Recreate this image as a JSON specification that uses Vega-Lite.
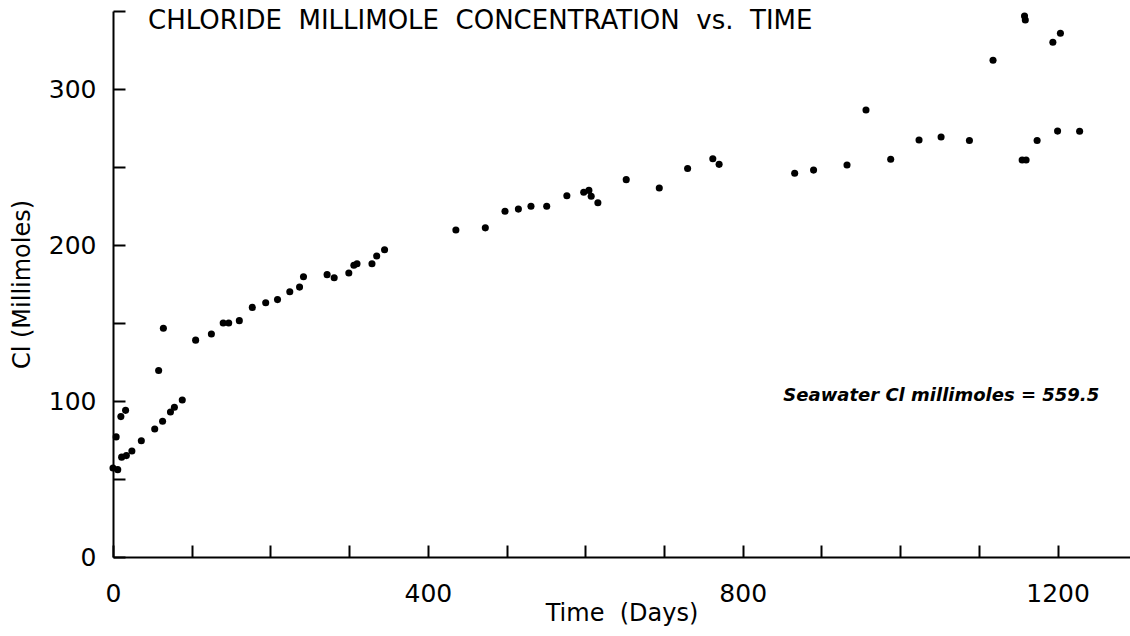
{
  "$schema": "https://vega.github.io/schema/vega-lite/v6.json",
  "autosize": {"type": "none"},
  "width": 1017,
  "height": 546,
  "padding": {"left": 113, "top": 11, "right": 0, "bottom": 79},
  "background": "white",
  "config": {
    "view": {"stroke": null},
    "axis": {
      "grid": false,
      "domainColor": "black",
      "domainWidth": 2,
      "tickColor": "black",
      "tickWidth": 2,
      "tickSize": -12,
      "labelColor": "black",
      "labelFont": "DejaVu Sans",
      "labelFontSize": 25,
      "titleColor": "black",
      "titleFont": "DejaVu Sans",
      "titleFontSize": 24,
      "titleFontWeight": "normal",
      "labelFlush": false,
      "labelOverlap": false,
      "labelBound": false
    }
  },
  "data": {
    "values": [
      {"day": 0, "cl": 57}, {"day": 6, "cl": 56}, {"day": 4, "cl": 77}, {"day": 10, "cl": 90},
      {"day": 16, "cl": 94}, {"day": 11, "cl": 64}, {"day": 17, "cl": 65}, {"day": 24, "cl": 68},
      {"day": 36, "cl": 74.5}, {"day": 53, "cl": 82}, {"day": 63, "cl": 87}, {"day": 73, "cl": 93},
      {"day": 78, "cl": 96}, {"day": 88, "cl": 100.6}, {"day": 58, "cl": 119.5}, {"day": 64, "cl": 146.6},
      {"day": 105, "cl": 139}, {"day": 125, "cl": 143}, {"day": 140, "cl": 150}, {"day": 147, "cl": 150},
      {"day": 160.5, "cl": 151.5}, {"day": 177, "cl": 160}, {"day": 194, "cl": 163}, {"day": 209, "cl": 165},
      {"day": 224.6, "cl": 170}, {"day": 237, "cl": 173}, {"day": 242, "cl": 179.7}, {"day": 272, "cl": 181},
      {"day": 281, "cl": 179}, {"day": 299.6, "cl": 182}, {"day": 306, "cl": 187}, {"day": 310, "cl": 188},
      {"day": 329, "cl": 188}, {"day": 335, "cl": 193}, {"day": 345, "cl": 197}, {"day": 435.6, "cl": 209.6},
      {"day": 473, "cl": 211}, {"day": 498, "cl": 221.6}, {"day": 515, "cl": 223}, {"day": 531, "cl": 224.8},
      {"day": 551, "cl": 224.8}, {"day": 576.6, "cl": 231.6}, {"day": 598, "cl": 233.8}, {"day": 604.6, "cl": 235},
      {"day": 607.5, "cl": 231.2}, {"day": 616, "cl": 227.1}, {"day": 652, "cl": 241.9}, {"day": 694, "cl": 236.5},
      {"day": 730, "cl": 249}, {"day": 762, "cl": 255.3}, {"day": 770, "cl": 251.7}, {"day": 866, "cl": 246},
      {"day": 890, "cl": 248}, {"day": 932.5, "cl": 251.3}, {"day": 956.6, "cl": 286.5}, {"day": 988, "cl": 255},
      {"day": 1024, "cl": 267.3}, {"day": 1052, "cl": 269.2}, {"day": 1088, "cl": 267}, {"day": 1155, "cl": 254.5},
      {"day": 1160, "cl": 254.5}, {"day": 1174, "cl": 267}, {"day": 1200, "cl": 273}, {"day": 1228, "cl": 272.9},
      {"day": 1158, "cl": 346.8}, {"day": 1159, "cl": 344.2}, {"day": 1203.6, "cl": 335.7}, {"day": 1194, "cl": 330},
      {"day": 1118, "cl": 318.4}
    ]
  },
  "layer": [
    {
      "mark": {"type": "point", "filled": true, "color": "black", "opacity": 1, "size": 50},
      "encoding": {
        "x": {
          "field": "day", "type": "quantitative",
          "scale": {"domain": [0, 1292], "nice": false, "zero": true},
          "axis": {
            "title": "Time\u00a0\u00a0(Days)",
            "values": [0, 100, 200, 300, 400, 500, 600, 700, 800, 900, 1000, 1100, 1200],
            "format": "d",
            "labelExpr": "datum.value % 400 === 0 ? datum.label : ''",
            "labelPadding": 36,
            "titlePadding": -5
          }
        },
        "y": {
          "field": "cl", "type": "quantitative",
          "scale": {"domain": [0, 350], "nice": false},
          "axis": {
            "title": "Cl (Millimoles)",
            "values": [0, 50, 100, 150, 200, 250, 300, 350],
            "format": "d",
            "labelExpr": "datum.value % 100 === 0 ? datum.label : ''",
            "labelPadding": 29,
            "titlePadding": 14
          }
        }
      }
    },
    {
      "data": {"values": [{}]},
      "mark": {"type": "text", "align": "left", "baseline": "middle", "font": "DejaVu Sans", "fontSize": 26, "color": "black"},
      "encoding": {
        "x": {"datum": 44.5, "type": "quantitative"},
        "y": {"datum": 343.6, "type": "quantitative"},
        "text": {"value": "CHLORIDE\u00a0\u00a0MILLIMOLE\u00a0\u00a0CONCENTRATION\u00a0\u00a0vs.\u00a0\u00a0TIME"}
      }
    },
    {
      "data": {"values": [{}]},
      "mark": {"type": "text", "align": "left", "baseline": "middle", "font": "DejaVu Sans", "fontSize": 18, "fontStyle": "italic", "fontWeight": "bold", "color": "black"},
      "encoding": {
        "x": {"datum": 851.6, "type": "quantitative"},
        "y": {"datum": 103.5, "type": "quantitative"},
        "text": {"value": "Seawater Cl millimoles = 559.5"}
      }
    }
  ]
}
